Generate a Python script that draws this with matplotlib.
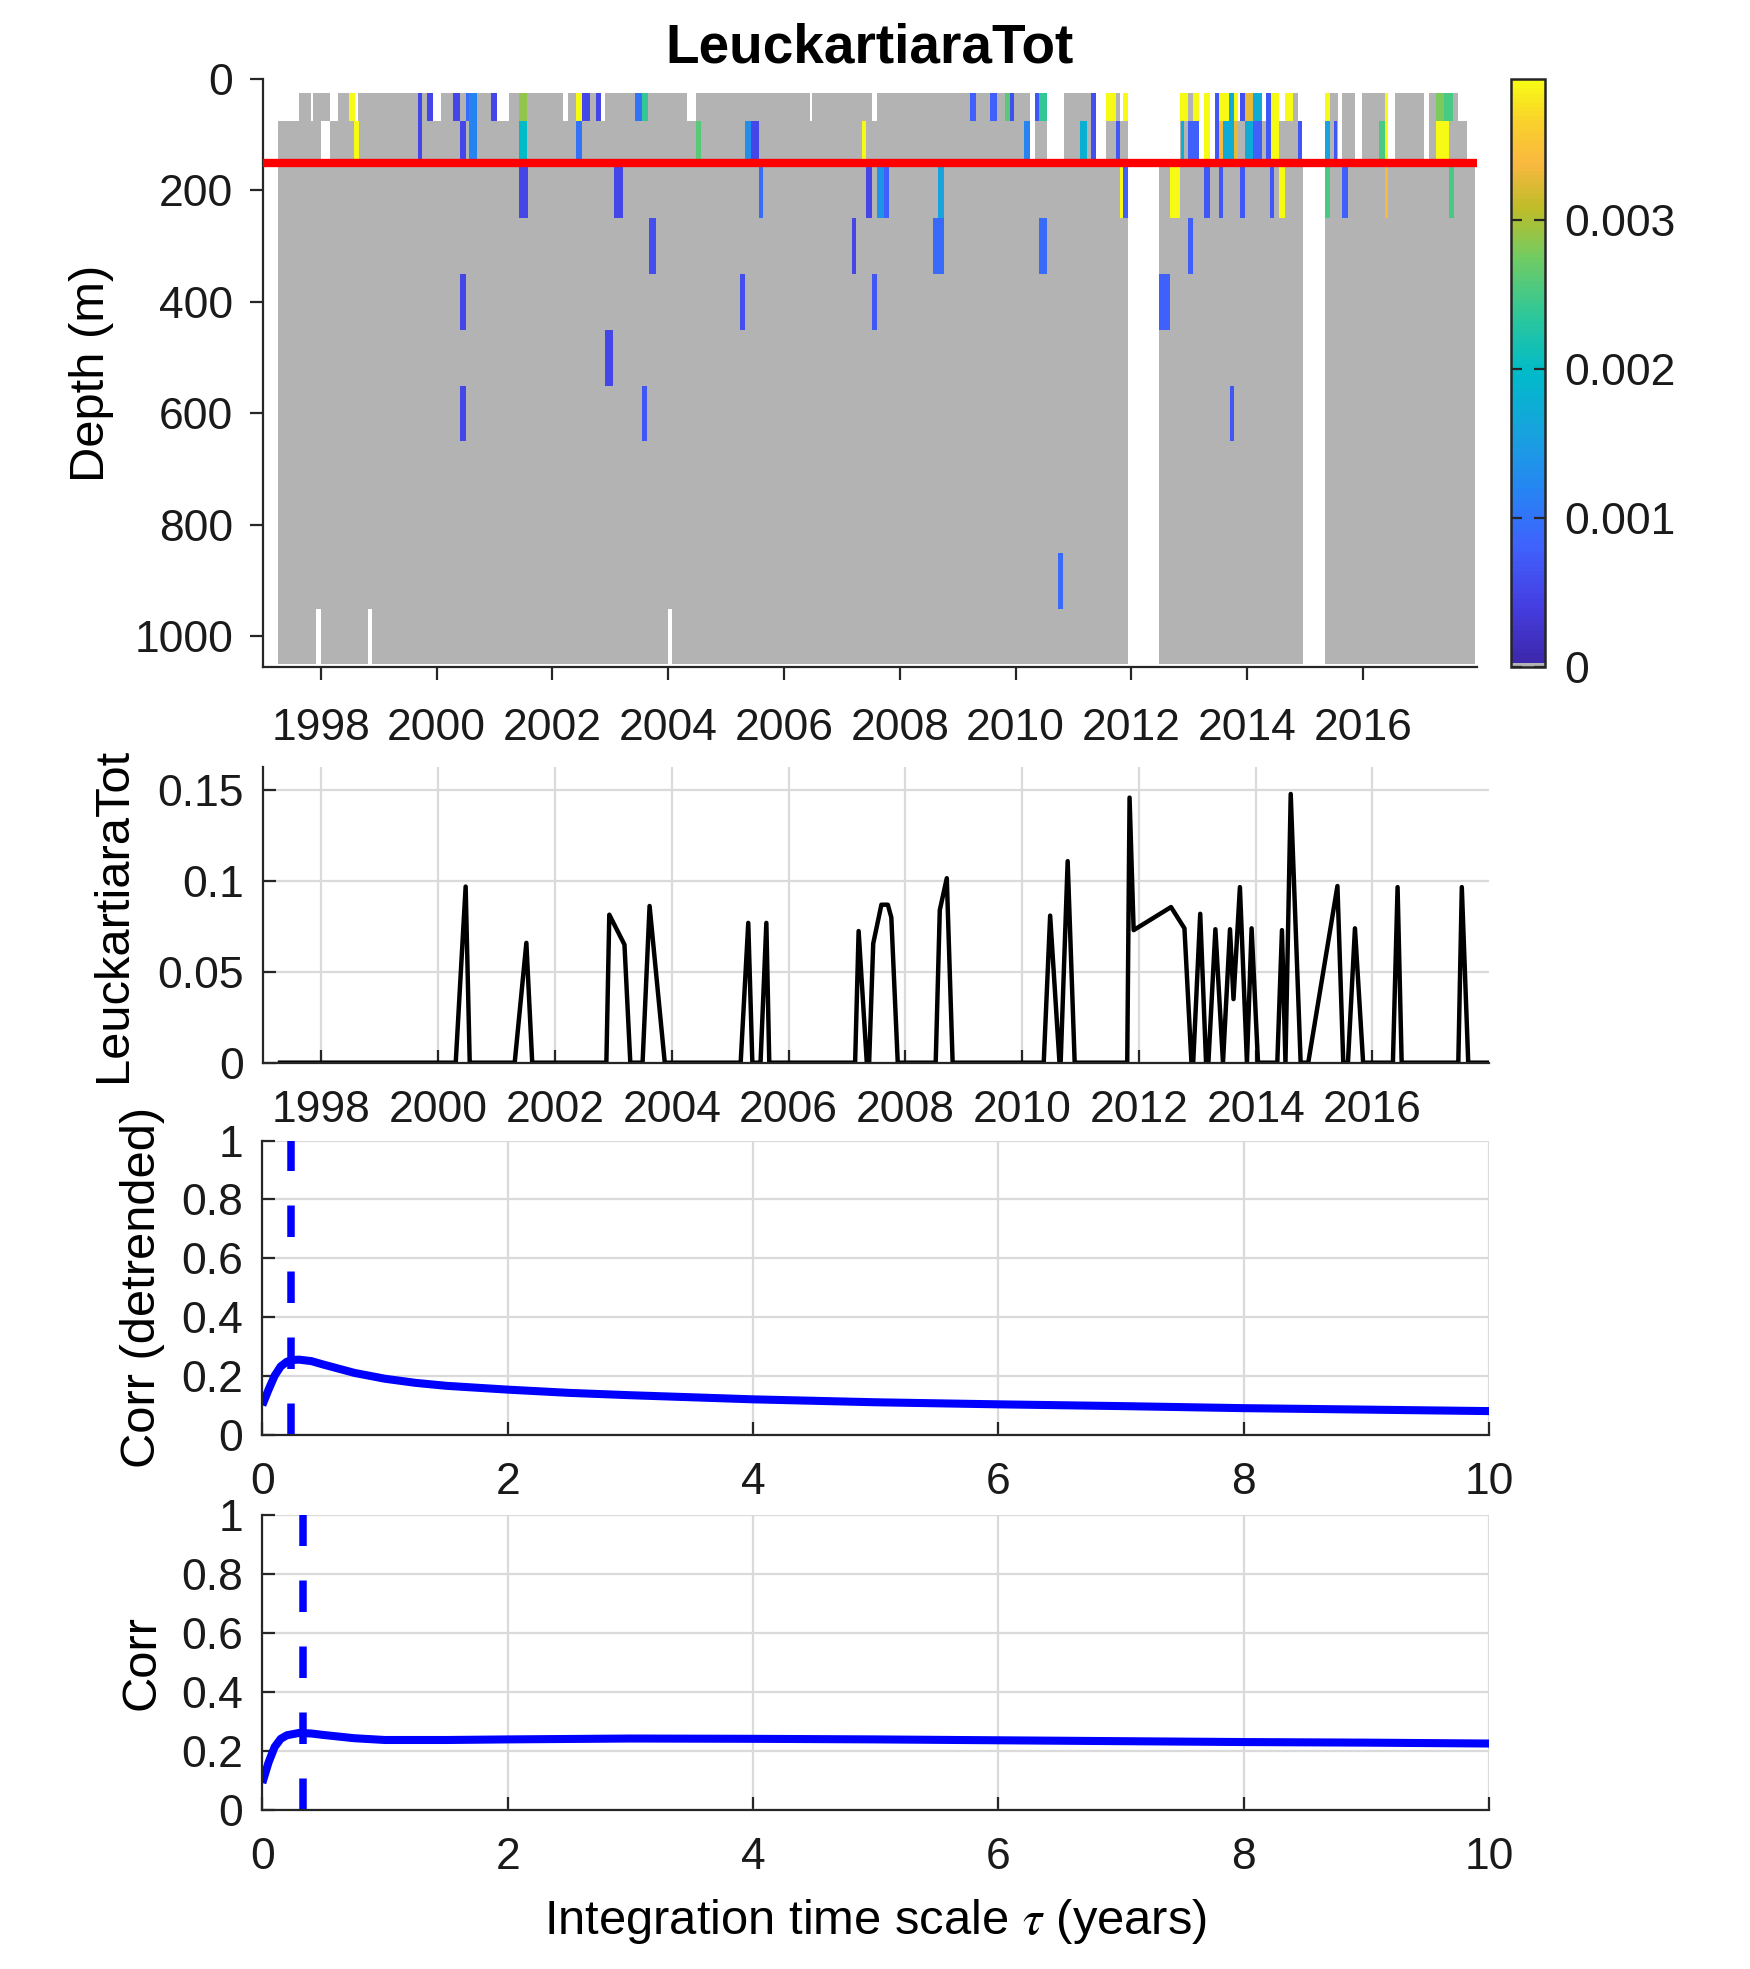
import numpy as np
import matplotlib
matplotlib.use("Agg")
import matplotlib.pyplot as plt
from matplotlib.colors import LinearSegmentedColormap, ListedColormap

plt.rcParams['font.family'] = ['Liberation Sans', 'DejaVu Sans']
plt.rcParams['mathtext.fontset'] = 'stix'

# ---------------- data ----------------
title = "LeuckartiaraTot"

# depth bin edges (m)
depth_edges = [25, 75, 150, 250, 350, 450, 550, 650, 750, 850, 950, 1050]

# time span covered by each depth row (years)
row_span = [(1997.63, 2017.64), (1997.26, 2017.80)] + [(1997.26, 2017.94)] * 9

# missing samples (white) per row
deep_gaps = [(2011.95, 2012.48), (2014.97, 2015.345)]
row_gaps = [
    [(1997.83, 1997.87), (1998.16, 1998.29), (1998.59, 1998.64), (1999.94, 2000.07),
     (2001.05, 2001.25), (2002.18, 2002.27), (2002.84, 2002.91), (2004.33, 2004.48),
     (2006.45, 2006.48), (2007.52, 2007.60), (2010.24, 2010.33), (2010.55, 2010.83),
     (2011.39, 2011.57), (2011.80, 2011.86), (2011.95, 2012.845), (2013.16, 2013.26),
     (2013.36, 2013.45), (2013.85, 2013.88), (2014.25, 2014.32), (2014.55, 2014.65),
     (2014.88, 2015.345), (2015.57, 2015.64), (2015.87, 2015.99), (2016.44, 2016.55),
     (2017.05, 2017.14)],
    [(1998.01, 1998.16), (2010.24, 2010.33), (2010.55, 2010.83), (2011.39, 2011.57),
     (2011.95, 2012.845), (2013.16, 2013.26), (2013.36, 2013.45), (2014.95, 2015.345),
     (2015.57, 2015.64), (2015.87, 2015.99), (2016.44, 2016.55), (2017.05, 2017.14)],
    deep_gaps, deep_gaps, deep_gaps, deep_gaps, deep_gaps, deep_gaps, deep_gaps, deep_gaps,
    deep_gaps + [(1997.92, 1998.00), (1998.82, 1998.89), (2003.99, 2004.06)],
]

# non-zero abundance cells per row: (t0, t1, value)
row_cells = [
    [(1998.49, 1998.59, 0.004), (1999.67, 1999.75, 0.0005), (1999.84, 1999.94, 0.0005),
     (2000.28, 2000.40, 0.0005), (2000.51, 2000.56, 0.0009), (2000.56, 2000.69, 0.0012),
     (2000.93, 2001.05, 0.0005), (2001.42, 2001.56, 0.0029), (2002.40, 2002.51, 0.004),
     (2002.51, 2002.64, 0.0005), (2002.76, 2002.84, 0.0005), (2003.43, 2003.55, 0.0010),
     (2003.55, 2003.65, 0.0024), (2009.21, 2009.32, 0.0008), (2009.55, 2009.68, 0.0008),
     (2009.81, 2009.90, 0.0026), (2009.90, 2009.97, 0.0006), (2010.33, 2010.41, 0.0007),
     (2010.41, 2010.55, 0.0024), (2011.30, 2011.39, 0.0006), (2011.57, 2011.74, 0.004),
     (2011.86, 2011.95, 0.004), (2012.845, 2012.98, 0.004), (2013.07, 2013.16, 0.004),
     (2013.26, 2013.36, 0.004), (2013.45, 2013.52, 0.0007), (2013.52, 2013.68, 0.004),
     (2013.68, 2013.78, 0.0017), (2013.78, 2013.85, 0.004), (2013.88, 2013.97, 0.0006),
     (2013.97, 2014.10, 0.0033), (2014.10, 2014.25, 0.0017), (2014.32, 2014.41, 0.0007),
     (2014.41, 2014.55, 0.004), (2014.65, 2014.79, 0.004), (2015.345, 2015.43, 0.004),
     (2016.38, 2016.44, 0.004), (2017.26, 2017.40, 0.0028), (2017.40, 2017.56, 0.0025)],
    [(1998.57, 1998.66, 0.004), (1999.67, 1999.75, 0.0005), (2000.40, 2000.51, 0.0005),
     (2000.56, 2000.69, 0.0012), (2001.42, 2001.56, 0.0020), (2002.40, 2002.51, 0.0010),
     (2004.48, 2004.57, 0.0026), (2005.33, 2005.43, 0.0013), (2005.43, 2005.57, 0.0005),
     (2007.34, 2007.41, 0.004), (2010.15, 2010.24, 0.0012), (2011.12, 2011.23, 0.0018),
     (2011.31, 2011.39, 0.0006), (2011.74, 2011.80, 0.0007), (2012.85, 2012.91, 0.0018),
     (2012.98, 2013.16, 0.0008), (2013.26, 2013.36, 0.004), (2013.45, 2013.52, 0.0007),
     (2013.52, 2013.59, 0.0034), (2013.59, 2013.78, 0.0017), (2013.78, 2013.85, 0.0033),
     (2013.97, 2014.10, 0.0017), (2014.10, 2014.25, 0.0008), (2014.32, 2014.41, 0.0007),
     (2014.41, 2014.55, 0.004), (2014.88, 2014.95, 0.0007), (2015.345, 2015.43, 0.0016),
     (2015.50, 2015.56, 0.0007), (2016.28, 2016.38, 0.0025), (2016.38, 2016.44, 0.004),
     (2017.26, 2017.48, 0.004)],
    [(2001.42, 2001.58, 0.0005), (2003.06, 2003.22, 0.0005), (2005.57, 2005.63, 0.0009),
     (2007.41, 2007.52, 0.0005), (2007.60, 2007.73, 0.0014), (2007.73, 2007.81, 0.0008),
     (2008.66, 2008.76, 0.0016), (2011.80, 2011.85, 0.004), (2011.85, 2011.95, 0.0008),
     (2012.67, 2012.845, 0.004), (2013.26, 2013.36, 0.0007), (2013.52, 2013.59, 0.0007),
     (2013.88, 2013.97, 0.0007), (2014.40, 2014.47, 0.0007), (2014.55, 2014.65, 0.004),
     (2015.345, 2015.43, 0.0025), (2015.64, 2015.75, 0.0008), (2016.38, 2016.44, 0.0034),
     (2017.48, 2017.57, 0.0025)],
    [(2003.66, 2003.78, 0.0006), (2007.17, 2007.25, 0.0005), (2008.57, 2008.76, 0.0009),
     (2010.41, 2010.55, 0.0009), (2012.98, 2013.07, 0.0008)],
    [(2000.40, 2000.50, 0.0005), (2005.24, 2005.33, 0.0006), (2007.52, 2007.60, 0.0007),
     (2012.48, 2012.67, 0.0008)],
    [(2002.91, 2003.05, 0.0005)],
    [(2000.40, 2000.50, 0.0005), (2003.55, 2003.63, 0.0007), (2013.70, 2013.78, 0.0007)],
    [],
    [],
    [(2010.73, 2010.82, 0.0009)],
    [],
]

# depth-integrated series
ts_year = [1997.29, 2000.30, 2000.47, 2000.54, 2001.31, 2001.51, 2001.61, 2002.88, 2002.93,
           2003.19, 2003.29, 2003.50, 2003.62, 2003.88, 2005.18, 2005.31, 2005.38, 2005.52,
           2005.62, 2005.67, 2007.14, 2007.20, 2007.34, 2007.38, 2007.45, 2007.59, 2007.70,
           2007.76, 2007.87, 2008.52, 2008.59, 2008.71, 2008.81, 2010.37, 2010.48, 2010.64,
           2010.66, 2010.78, 2010.90, 2011.80, 2011.84, 2011.91, 2012.55, 2012.78, 2012.90,
           2012.93, 2013.05, 2013.15, 2013.19, 2013.31, 2013.44, 2013.56, 2013.62, 2013.73,
           2013.85, 2013.93, 2014.04, 2014.37, 2014.45, 2014.51, 2014.60, 2014.77, 2014.90,
           2015.40, 2015.50, 2015.58, 2015.70, 2015.84, 2016.35, 2016.43, 2016.50, 2017.47,
           2017.53, 2017.64, 2017.98]
ts_val = [0, 0, 0.097, 0, 0, 0.066, 0, 0, 0.0815,
          0.065, 0, 0, 0.0863, 0, 0, 0.077, 0, 0,
          0.077, 0, 0, 0.0725, 0, 0, 0.0656, 0.087, 0.087,
          0.080, 0, 0, 0.084, 0.1016, 0, 0, 0.081, 0,
          0, 0.111, 0, 0, 0.146, 0.073, 0.0857, 0.074, 0,
          0, 0.082, 0, 0, 0.0735, 0, 0.0735, 0.035, 0.0967,
          0, 0.074, 0, 0, 0.073, 0, 0.148, 0, 0,
          0.0973, 0, 0, 0.074, 0, 0, 0.0967, 0, 0,
          0.0967, 0, 0]

# correlation vs integration time scale
tau_det = [0, 0.05, 0.1, 0.15, 0.2, 0.25, 0.3, 0.4, 0.5, 0.75, 1.0, 1.25, 1.5, 2, 2.5, 3,
           4, 5, 6, 7, 8, 9, 10]
corr_det = [0.10, 0.152, 0.20, 0.232, 0.248, 0.254, 0.255, 0.25, 0.238, 0.21, 0.19, 0.176,
            0.166, 0.153, 0.142, 0.134, 0.12, 0.11, 0.103, 0.097, 0.09, 0.085, 0.08]
tau_best_det = 0.233

tau_raw = [0, 0.05, 0.1, 0.15, 0.2, 0.3, 0.4, 0.5, 0.75, 1.0, 1.5, 2, 3, 4, 5, 6, 7, 8, 9, 10]
corr_raw = [0.09, 0.159, 0.212, 0.24, 0.252, 0.26, 0.258, 0.253, 0.242, 0.236, 0.236, 0.238,
            0.241, 0.24, 0.238, 0.235, 0.232, 0.229, 0.227, 0.224]
tau_best_raw = 0.328

clim = (0, 0.00395)
year_ticks = list(range(1998, 2017, 2))

# ---------------- build depth-time grid ----------------
nrow = len(depth_edges) - 1
bounds = set()
for r in range(nrow):
    bounds.update(np.round(row_span[r], 3))
    for g in row_gaps[r]:
        bounds.update(np.round(g, 3))
    for c in row_cells[r]:
        bounds.update(np.round(c[:2], 3))
t_edges = np.array(sorted(bounds))
mids = 0.5 * (t_edges[:-1] + t_edges[1:])
Z = np.full((nrow, len(mids)), np.nan)
for r in range(nrow):
    s, e = row_span[r]
    Z[r, (mids > s) & (mids < e)] = 0.0
    for t0, t1 in row_gaps[r]:
        Z[r, (mids > t0) & (mids < t1)] = np.nan
    for t0, t1, v in row_cells[r]:
        Z[r, (mids > t0) & (mids < t1)] = v
Z = np.ma.masked_invalid(Z)

# parula-like colormap, lowest entry grey
keys = [(0.00, (0.24, 0.15, 0.66)), (0.10, (0.27, 0.24, 0.88)), (0.20, (0.25, 0.38, 0.99)),
        (0.30, (0.15, 0.52, 0.95)), (0.40, (0.09, 0.64, 0.87)), (0.50, (0.00, 0.73, 0.79)),
        (0.60, (0.18, 0.78, 0.60)), (0.70, (0.45, 0.80, 0.38)), (0.78, (0.74, 0.74, 0.16)),
        (0.86, (0.98, 0.72, 0.25)), (0.93, (0.98, 0.82, 0.17)), (1.00, (0.97, 0.98, 0.08))]
base = LinearSegmentedColormap.from_list("parula_like", keys, N=128)
cols = base(np.linspace(0, 1, 128))
cols[0] = (0.7, 0.7, 0.7, 1.0)
cmap = ListedColormap(cols)

# ---------------- figure ----------------
axc = '#262626'
fs = 16
fig = plt.figure(figsize=(8.75, 9.845), dpi=200)

ax1 = fig.add_axes([0.1503, 0.6612, 0.6937, 0.2987])
cax = fig.add_axes([0.8634, 0.6612, 0.0194, 0.2987])
ax2 = fig.add_axes([0.1503, 0.4603, 0.7007, 0.1503])
ax3 = fig.add_axes([0.1499, 0.2714, 0.7011, 0.1493])
ax4 = fig.add_axes([0.1499, 0.0810, 0.7011, 0.1496])

# top panel
mesh = ax1.pcolormesh(t_edges, depth_edges, Z, cmap=cmap, vmin=clim[0], vmax=clim[1],
                      shading='flat', zorder=1)
ax1.axhline(150, color='red', lw=3, zorder=3)
ax1.set_xlim(1997.0, 2017.97)
ax1.set_ylim(1055, 0)
ax1.set_yticks([0, 200, 400, 600, 800, 1000])
ax1.set_xticks(year_ticks)
for s in ['top', 'right']:
    ax1.spines[s].set_visible(False)
for s in ['left', 'bottom']:
    ax1.spines[s].set_color(axc)
    ax1.spines[s].set_linewidth(0.8)
ax1.spines['bottom'].set_zorder(0.5)
ax1.tick_params(axis='both', direction='out', length=4.7, width=0.8, color=axc,
                labelsize=fs, labelcolor='#1a1a1a')
ax1.tick_params(axis='x', pad=10)
ax1.tick_params(axis='y', pad=6)
ax1.set_ylabel("Depth (m)", fontsize=17.6)
ax1.yaxis.set_label_coords(-0.141, 0.5)
ax1.yaxis.label.set_va('center')
fig.text(0.497, 0.9755, title, ha='center', va='center', fontsize=19.8, fontweight='bold')

cb = fig.colorbar(mesh, cax=cax)
cb.set_ticks([0, 0.001, 0.002, 0.003])
cb.set_ticklabels(['0', '0.001', '0.002', '0.003'])
cax.tick_params(direction='in', length=4.0, width=0.8, color=axc, left=True, right=True,
                labelsize=fs, pad=7, labelcolor='#1a1a1a')
cb.outline.set_edgecolor(axc)
cb.outline.set_linewidth(0.9)


def style_line_axes(ax):
    for s in ['top', 'right']:
        ax.spines[s].set_visible(False)
    for s in ['left', 'bottom']:
        ax.spines[s].set_color(axc)
        ax.spines[s].set_linewidth(0.8)
    ax.grid(True, color='#dadada', lw=0.8)
    ax.set_axisbelow(True)
    ax.tick_params(axis='both', direction='in', length=4.7, width=0.8, color=axc,
                   labelsize=fs, pad=7, labelcolor='#1a1a1a')
    ax.tick_params(axis='x', pad=10)


# time series panel
ax2.plot(ts_year, ts_val, color='black', lw=1.6)
ax2.set_xlim(1997.0, 2018.0)
ax2.set_ylim(0, 0.163)
ax2.set_xticks(year_ticks)
ax2.set_yticks([0, 0.05, 0.1, 0.15])
ax2.set_yticklabels(['0', '0.05', '0.1', '0.15'])
style_line_axes(ax2)
ax2.set_ylabel("LeuckartiaraTot", fontsize=17.6)
ax2.yaxis.set_label_coords(-0.122, 0.5)
ax2.yaxis.label.set_va('center')

# correlation panels
for ax, tau, corr, best, lab in [(ax3, tau_det, corr_det, tau_best_det, "Corr (detrended)"),
                                 (ax4, tau_raw, corr_raw, tau_best_raw, "Corr")]:
    ax.plot(tau, corr, color='blue', lw=2.9, solid_capstyle='butt')
    ax.axvline(best, color='blue', lw=2.7, linestyle=(0, (4.2, 4.6)))
    ax.set_xlim(0, 10)
    ax.set_ylim(0, 1)
    ax.set_xticks([0, 2, 4, 6, 8, 10])
    ax.set_yticks([0, 0.2, 0.4, 0.6, 0.8, 1])
    ax.set_yticklabels(['0', '0.2', '0.4', '0.6', '0.8', '1'])
    style_line_axes(ax)
    ax.set_ylabel(lab, fontsize=17.6)
    ax.yaxis.set_label_coords(-0.098, 0.5)
    ax.yaxis.label.set_va('center')

ax4.set_xlabel(r"Integration time scale $\tau$ (years)", fontsize=17.6)
ax4.xaxis.set_label_coords(0.5, -0.38)
ax4.xaxis.label.set_va('center')

fig.savefig("out.png", dpi=200)
